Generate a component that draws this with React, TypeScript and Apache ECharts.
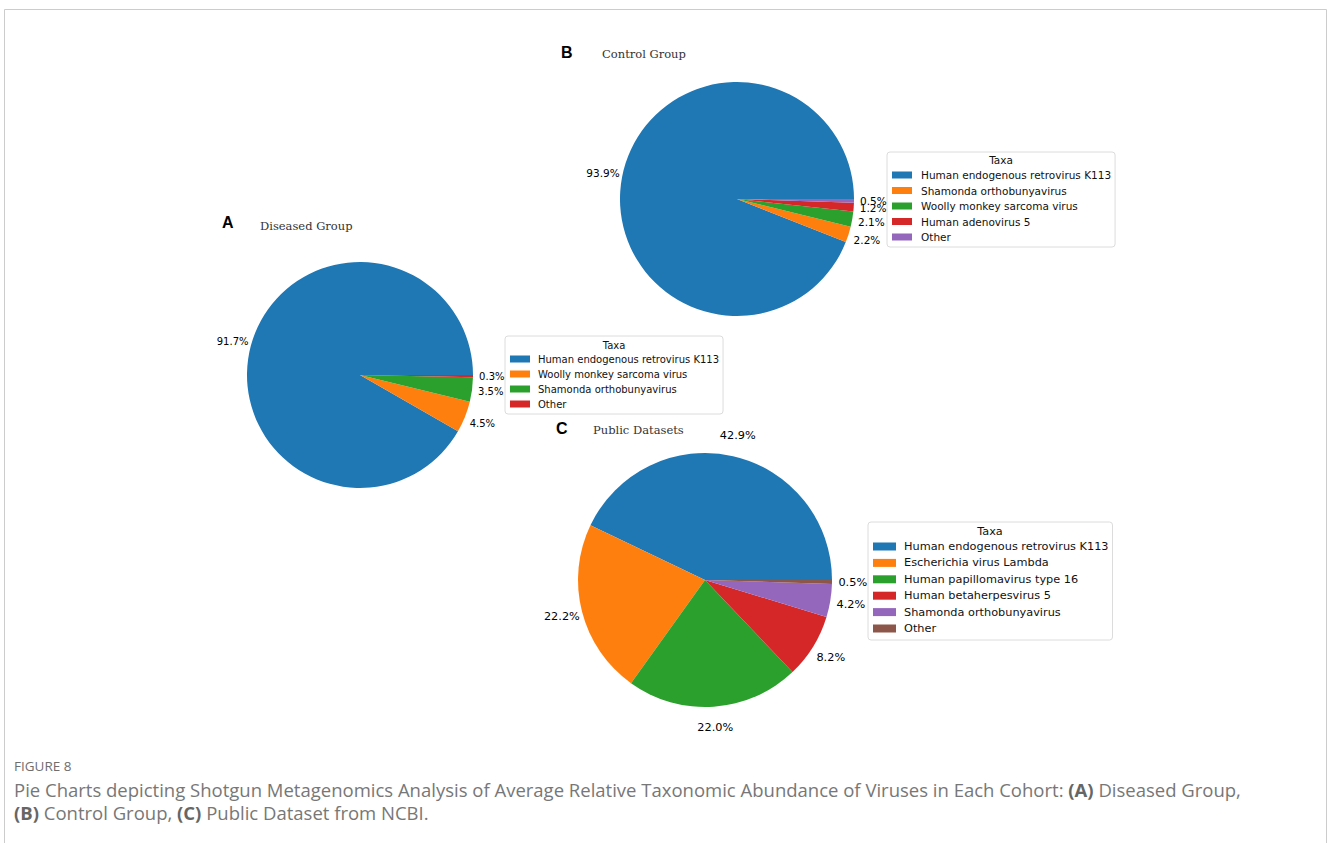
import React, { useEffect, useRef } from 'react';
import * as echarts from 'echarts';

// matplotlib "tab10" colours, used in slice order
const palette = ['#1f77b4', '#ff7f0e', '#2ca02c', '#d62728', '#9467bd', '#8c564b'];

// (A) Diseased group
const taxaA = [
  'Human endogenous retrovirus K113',
  'Woolly monkey sarcoma virus',
  'Shamonda orthobunyavirus',
  'Other',
];
const shareA = [91.7, 4.5, 3.5, 0.3];

// (B) Control group
const taxaB = [
  'Human endogenous retrovirus K113',
  'Shamonda orthobunyavirus',
  'Woolly monkey sarcoma virus',
  'Human adenovirus 5',
  'Other',
];
const shareB = [93.9, 2.2, 2.1, 1.2, 0.5];

// (C) Public datasets
const taxaC = [
  'Human endogenous retrovirus K113',
  'Escherichia virus Lambda',
  'Human papillomavirus type 16',
  'Human betaherpesvirus 5',
  'Shamonda orthobunyavirus',
  'Other',
];
const shareC = [42.9, 22.2, 22.0, 8.2, 4.2, 0.5];

const captionHead = 'FIGURE 8';
const captionLine1 =
  'Pie Charts depicting Shotgun Metagenomics Analysis of Average Relative Taxonomic Abundance of Viruses in Each Cohort: {b|(A)} Diseased Group,';
const captionLine2 = '{b|(B)} Control Group, {b|(C)} Public Dataset from NCBI.';

const SANS = '"DejaVu Sans", sans-serif';
const SERIF = '"DejaVu Serif", serif';
const CAPTION_FONT = '"Open Sans", sans-serif';

// One pie plus an invisible ring whose "inside" labels sit just outside the pie
function pieWithLabels(values: number[], names: string[], center: number[], r: number, fontSize: number) {
  return [
    {
      type: 'pie',
      center,
      radius: r,
      startAngle: 0,
      clockwise: false,
      silent: true,
      emphasis: { disabled: true },
      label: { show: false },
      labelLine: { show: false },
      itemStyle: { borderWidth: 0 },
      data: names.map((n, i) => ({ name: n, value: values[i], itemStyle: { color: palette[i] } })),
    },
    {
      type: 'pie',
      center,
      radius: [r * 1.08, r * 1.2],
      startAngle: 0,
      clockwise: false,
      silent: true,
      avoidLabelOverlap: false,
      minShowLabelAngle: 0,
      labelLayout: { hideOverlap: false },
      emphasis: { disabled: true },
      itemStyle: { color: 'rgba(0,0,0,0)', borderWidth: 0 },
      labelLine: { show: false },
      label: {
        show: true,
        position: 'inside',
        formatter: (p: any) => `${Number(p.value).toFixed(1)}%`,
        fontFamily: SANS,
        fontSize,
        color: '#000',
      },
      data: values.map((v) => ({ value: v })),
    },
  ];
}

function taxaLegend(
  names: string[],
  left: number,
  top: number,
  padding: number[],
  itemWidth: number,
  itemHeight: number,
  fontSize: number,
  lineHeight: number,
  itemGap: number,
  textPad: number
) {
  return {
    orient: 'vertical',
    left,
    top,
    padding,
    itemWidth,
    itemHeight,
    itemGap,
    z: 2,
    selectedMode: false,
    borderColor: '#dcdcdc',
    borderWidth: 1,
    borderRadius: 3,
    backgroundColor: '#ffffff',
    textStyle: {
      fontFamily: SANS,
      fontSize,
      lineHeight,
      color: '#111',
      padding: [0, 0, 0, textPad],
    },
    data: names.map((n, i) => ({ name: n, icon: 'rect', itemStyle: { color: palette[i] } })),
  };
}

function text(x: number, y: number, str: string, font: string, fill: string, align = 'left') {
  return {
    type: 'text',
    x,
    y,
    z: 100,
    silent: true,
    style: { text: str, font, fill, textAlign: align, textVerticalAlign: 'middle' },
  };
}

export default function App() {
  const ref = useRef<HTMLDivElement>(null);

  useEffect(() => {
    if (!ref.current) return;
    const chart = echarts.init(ref.current, null, { renderer: 'svg' });

    const captionRich = {
      b: { fontWeight: 'bold', fontFamily: CAPTION_FONT, fontSize: 18.5, fill: '#666', color: '#666' },
    };

    chart.setOption({
      animation: false,
      backgroundColor: '#ffffff',
      legend: [
        taxaLegend(taxaA, 505, 336, [17, 4, 4, 5], 20, 7, 10, 12, 3, 3),
        taxaLegend(taxaB, 887, 152, [17, 4, 4, 5], 20, 7, 10.5, 12, 3.5, 4),
        taxaLegend(taxaC, 868, 522, [18, 4, 5, 5], 23, 8, 11.3, 13, 3.4, 3),
      ],
      series: [
        ...pieWithLabels(shareA, taxaA, [360, 375], 113, 10),
        ...pieWithLabels(shareB, taxaB, [737, 199], 117, 10.5),
        ...pieWithLabels(shareC, taxaC, [705, 580], 127, 11.3),
      ],
      graphic: [
        {
          type: 'rect',
          z: 0,
          silent: true,
          shape: { x: 4.5, y: 9.5, width: 1322, height: 850 },
          style: { fill: 'none', stroke: '#cccccc', lineWidth: 1 },
        },
        // panel letters and titles
        text(222, 222, 'A', 'bold 16px "Liberation Sans", sans-serif', '#000'),
        text(260, 226, 'Diseased Group', `11.5px ${SERIF}`, '#333'),
        text(561, 52, 'B', 'bold 16px "Liberation Sans", sans-serif', '#000'),
        text(602, 54, 'Control Group', `11.5px ${SERIF}`, '#333'),
        text(556, 428, 'C', 'bold 16px "Liberation Sans", sans-serif', '#000'),
        text(593, 430, 'Public Datasets', `11.5px ${SERIF}`, '#333'),
        // legend headings
        text(614, 345, 'Taxa', `10px ${SANS}`, '#111', 'center'),
        text(1001, 160, 'Taxa', `10.5px ${SANS}`, '#111', 'center'),
        text(990, 531, 'Taxa', `11.3px ${SANS}`, '#111', 'center'),
        // caption
        text(14, 766, captionHead, `13.5px ${CAPTION_FONT}`, '#6e6e6e'),
        {
          type: 'text',
          x: 14,
          y: 789,
          z: 100,
          silent: true,
          style: {
            text: captionLine1,
            font: `18.5px ${CAPTION_FONT}`,
            fill: '#777',
            textVerticalAlign: 'middle',
            rich: captionRich,
          },
        },
        {
          type: 'text',
          x: 14,
          y: 812,
          z: 100,
          silent: true,
          style: {
            text: captionLine2,
            font: `18.5px ${CAPTION_FONT}`,
            fill: '#777',
            textVerticalAlign: 'middle',
            rich: captionRich,
          },
        },
      ],
    });

    return () => chart.dispose();
  }, []);

  return (
    <div
      ref={ref}
      style={{ position: 'fixed', left: 0, top: 0, width: 1328, height: 843, background: '#fff' }}
    />
  );
}
